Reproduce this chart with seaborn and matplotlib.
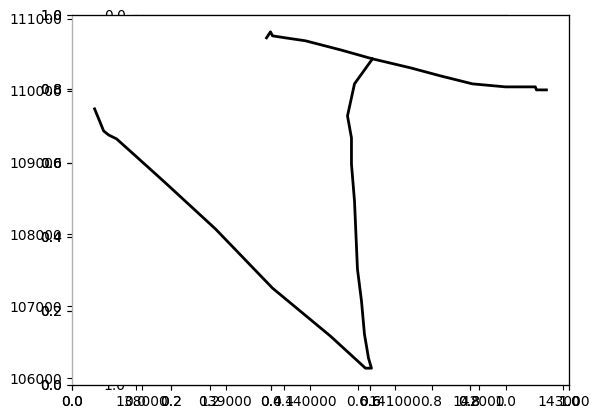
import pandas as pd
from matplotlib import pyplot as plt
import seaborn as sns

# track, two pieces that meet at the junction
top_x = [139481, 139528, 139552, 139706, 139943, 140358, 140737, 141187,
         141543, 141922, 142313, 142668, 142680, 142799]
top_y = [110735, 110819, 110763, 110735, 110694, 110568, 110443, 110318,
         110206, 110095, 110053, 110053, 110011, 110011]
down_x = [140737, 140524, 140441, 140488, 140488, 140524, 140559, 140607,
          140642, 140690, 140725, 140654, 140239, 139552, 138877, 138284,
          137929, 137704, 137609, 137550, 137502, 137443]
down_y = [110443, 110095, 109649, 109343, 108981, 108465, 107518, 107072,
          106613, 106279, 106139, 106139, 106585, 107253, 108075, 108716,
          109092, 109329, 109384, 109440, 109579, 109747]

track = pd.concat([
    pd.DataFrame({'x': top_x, 'y': top_y, 'seg': 0}),
    pd.DataFrame({'x': down_x, 'y': down_y, 'seg': 1}),
], ignore_index=True)

fig = plt.figure(figsize=(5.98, 4.18), dpi=100)

left, bottom = 72 / 598, 1 - 385 / 418
width, height = 497 / 598, 370 / 418

# square image-like axes sitting underneath
ax_img = fig.add_axes([135.5 / 598, bottom, 370 / 598, height], zorder=0)
ax_img.invert_yaxis()

ax_a = fig.add_axes([left, bottom, width, height], zorder=1)
ax_b = fig.add_axes([left, bottom, width, height], zorder=2)
ax_b.patch.set_visible(False)
ax = fig.add_axes([left, bottom, width, height], zorder=3)
ax.patch.set_visible(False)

sns.lineplot(data=track, x='x', y='y', units='seg', estimator=None,
             sort=False, color='black', linewidth=2, ax=ax)
ax.set_xlabel('')
ax.set_ylabel('')
ax.ticklabel_format(useOffset=False, style='plain')

for a in (ax_a, ax_b, ax):
    a.spines['left'].set_color('#b0b0b0')

fig.savefig('out.png', dpi=100)
